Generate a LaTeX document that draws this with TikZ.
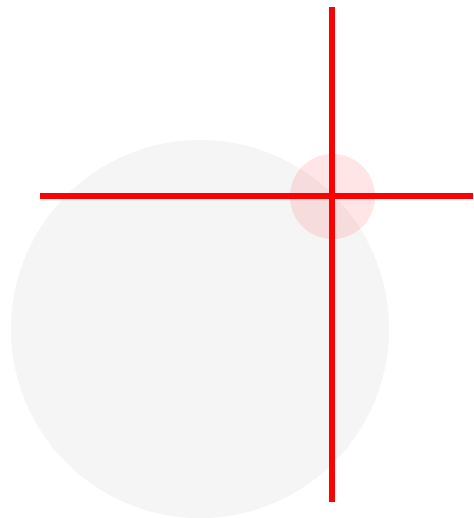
\documentclass[tikz,border=0pt]{standalone}
\begin{document}
\begin{tikzpicture}[x=1pt,y=1pt,
  bigdisc/.style={fill=black!4, draw=none},
  smalldisc/.style={fill=red, fill opacity=0.1, draw=none},
  redline/.style={draw=red, line width=6pt}]
\useasboundingbox (0,0) rectangle (473,518);
\fill[bigdisc] (200,189) circle (189);
\fill[smalldisc] (332.5,321.5) circle (42.5);
\coordinate (vtop) at (331.7,511);
\coordinate (vbot) at (331.7,15.7);
\coordinate (hl) at (40,322.3);
\coordinate (hr) at (473,322.3);
\draw[redline] (vtop) -- (vbot);
\draw[redline] (hl) -- (hr);
\end{tikzpicture}
\end{document}
